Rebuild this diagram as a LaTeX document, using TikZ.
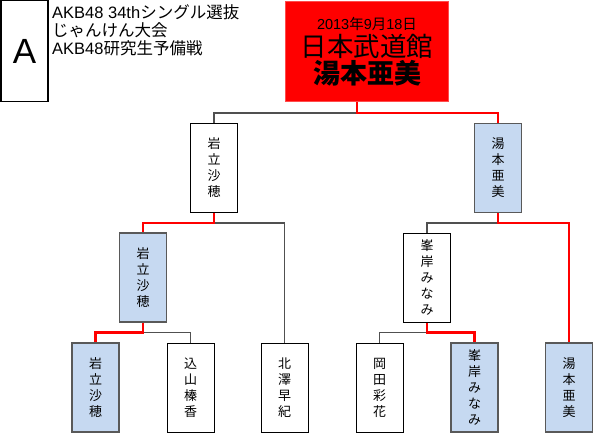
\documentclass[tikz,border=0pt]{standalone}
\usepackage{fontspec}
\setmainfont{Noto Sans CJK JP}
\newfontfamily\latinsans{Liberation Sans}
\begin{document}
\begin{tikzpicture}[x=1pt,y=-1pt,
  box/.style={draw=black,line width=1pt,fill=white,minimum width=47pt,minimum height=89pt,inner sep=0pt,
    align=center,font=\fontsize{13}{16}\selectfont},
  win/.style={box,fill=blueA,draw=gray!70!black,line width=1.2pt},
  lose/.style={line width=1.3pt,draw=lineGray},
  wl/.style={line width=2.4pt,draw=red}]
\definecolor{blueA}{HTML}{C6D9F1}
\definecolor{lineGray}{HTML}{505050}
\useasboundingbox[fill=white] (0,0) rectangle (600,439);
% header
\node[draw=black,line width=1.2pt,minimum width=47pt,minimum height=101pt,inner sep=0pt,
  font=\latinsans\fontsize{35}{35}\selectfont] (A) at (24.5,51) {A};
\node[anchor=west,align=left,inner sep=0pt,font=\fontsize{16.5}{18}\selectfont] (title) at (52,30)
  {{\latinsans AKB48 34th}シングル選抜\\じゃんけん大会\\{\latinsans AKB48}研究生予備戦};
% final
\node[fill=red,draw=red!70!white,line width=0.8pt,minimum width=163pt,minimum height=100pt,inner sep=0pt] (final) at (367,51.5) {};
\node[font=\fontsize{14.5}{14.5}\selectfont] (date) at (367,24) {{\latinsans 2013}年{\latinsans 9}月{\latinsans 18}日};
\node[font=\fontsize{26.5}{26.5}\selectfont] (venue) at (367,46) {日本武道館};
\node[font=\bfseries\fontsize{27}{27}\selectfont] (champ) at (367,73) {湯本亜美};
% level 1
\node[box] (s1a) at (214,168) {岩\\立\\沙\\穂};
\node[win] (s1b) at (498,168) {湯\\本\\亜\\美};
% level 2
\node[win] (s2a) at (143,277.5) {岩\\立\\沙\\穂};
\node[box] (s2c) at (427,277.5) {峯\\岸\\み\\な\\み};
% level 3
\node[win] (b1) at (95.5,387.5) {岩\\立\\沙\\穂};
\node[box] (b2) at (190.5,387.5) {込\\山\\榛\\香};
\node[box] (b3) at (284.5,387.5) {北\\澤\\早\\紀};
\node[box] (b4) at (379.5,387.5) {岡\\田\\彩\\花};
\node[win] (b5) at (474.5,387.5) {峯\\岸\\み\\な\\み};
\node[win] (b6) at (569,387.5) {湯\\本\\亜\\美};
% connectors
\coordinate (ftop) at (357,102);
\coordinate (fj) at (357,113);
\draw[lose] (fj) -| (s1a.north);
\draw[wl] (ftop) -- (fj) -| (s1b.north);
\draw[lose] (s1a.south) ++(0,10) coordinate (j1) -| (b3.north);
\draw[wl] (s1a.south) -- (j1) -| (s2a.north);
\draw[lose] (s1b.south) ++(0,10) coordinate (j2) -| (s2c.north);
\draw[wl] (s1b.south) -- (j2) -| (b6.north);
\draw[lose] (s2a.south) ++(0,10) coordinate (j3) -| (b2.north);
\draw[wl] (s2a.south) -- (j3) -| (b1.north);
\draw[lose] (s2c.south) ++(0,10) coordinate (j4) -| (b4.north);
\draw[wl] (s2c.south) -- (j4) -| (b5.north);
\end{tikzpicture}
\end{document}
